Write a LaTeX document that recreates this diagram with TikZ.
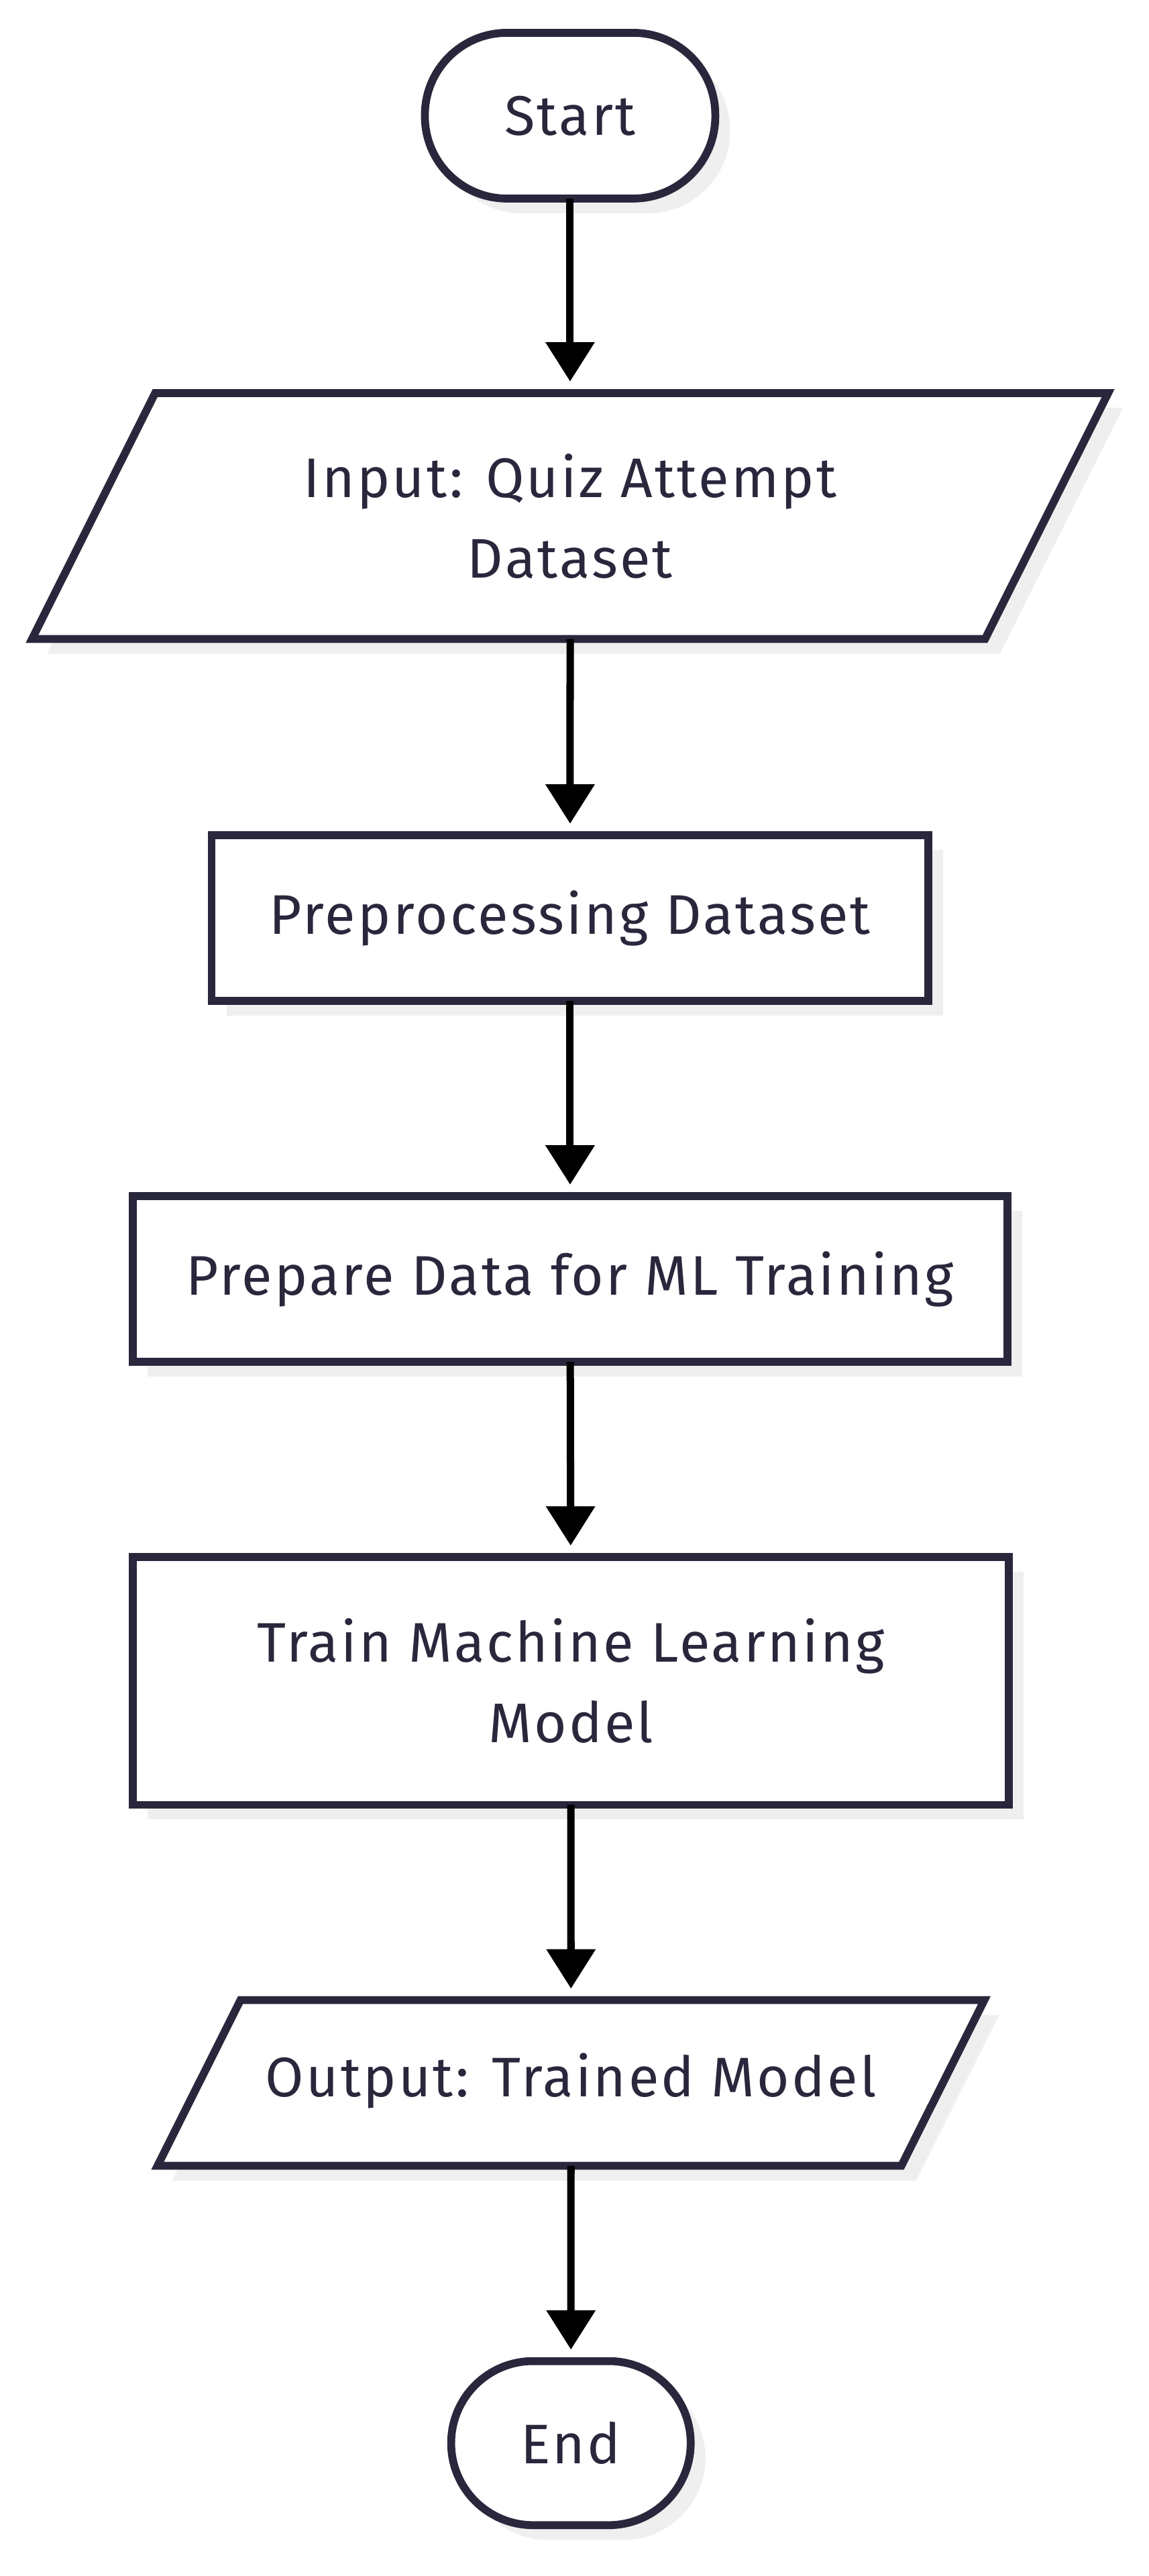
\documentclass[tikz,border=0pt]{standalone}
\usepackage{fontspec}
\setmainfont[LetterSpace=4]{Fira Sans}
\usetikzlibrary{shapes.geometric,shadows,arrows.meta}
\definecolor{ink}{HTML}{28273C}
\definecolor{shade}{HTML}{EFEFEF}
\begin{document}
\begin{tikzpicture}[x=0.5pt,y=-0.5pt,
    boxstyle/.style={draw=ink,line width=2.4pt,fill=white,text=ink,align=center,
        font=\fontsize{17}{24.5}\selectfont,inner sep=0pt,outer sep=0pt,
        drop shadow={shadow xshift=4.5pt,shadow yshift=-4.5pt,fill=shade,opacity=1}},
    termstyle/.style={boxstyle,rectangle,rounded corners=25pt},
    procstyle/.style={boxstyle,rectangle},
    iostyle/.style={boxstyle,trapezium,trapezium left angle=63.4,trapezium right angle=116.6,
        trapezium stretches body},
    flowstyle/.style={line width=2.25pt,-{Triangle[width=14.5pt,length=12pt]},shorten >=3.5pt}]
\useasboundingbox (0,0) rectangle (700,1570);
\node[termstyle,minimum width=88.5pt,minimum height=50.5pt](start) at (347.5,70.5){Start};
\node[iostyle,minimum width=328pt,inner ysep=18.5pt](input) at (347.5,314.5){Input: Quiz Attempt\ \\Dataset};
\node[procstyle,minimum width=218.5pt,minimum height=50.5pt](prep) at (347.5,559.5){Preprocessing Dataset};
\node[procstyle,minimum width=266.5pt,minimum height=50.5pt](ready) at (347.5,779.5){Prepare Data for ML Training};
\node[procstyle,minimum width=267pt,minimum height=75.5pt](train) at (348,1024.5){Train Machine Learning\ \\Model};
\node[iostyle,minimum width=252pt,text height=12pt,text depth=3.5pt,inner ysep=17.5pt](output) at (348,1269.5){Output: Trained Model};
\node[termstyle,minimum width=73pt,minimum height=50pt](stop) at (348,1489){End};
\draw[flowstyle] (start)--(input);
\draw[flowstyle] (input)--(prep);
\draw[flowstyle] (prep)--(ready);
\draw[flowstyle] (ready)--(train);
\draw[flowstyle] (train)--(output);
\draw[flowstyle] (output)--(stop);
\end{tikzpicture}
\end{document}
